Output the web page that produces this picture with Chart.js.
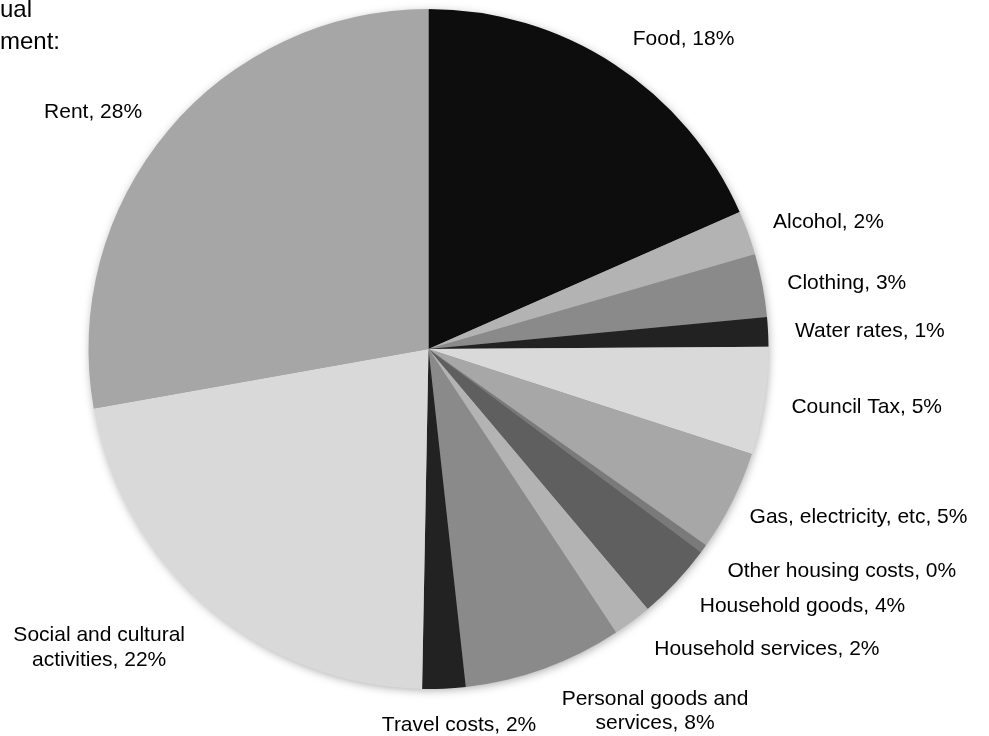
<!DOCTYPE html>
<html>
<head>
<meta charset="utf-8">
<script src="https://cdn.jsdelivr.net/npm/chart.js@4.4.1/dist/chart.umd.min.js"></script>
<style>
  body { margin: 0; background: #fff; }
  canvas { display: block; }
</style>
</head>
<body>
<canvas id="budgetPie" width="989" height="736"></canvas>
<script>
// slices, clockwise from 12 o'clock
var categories = ["Food", "Alcohol", "Clothing", "Water rates", "Council Tax", "Gas, electricity, etc",
    "Other housing costs", "Household goods", "Household services", "Personal goods and\nservices",
    "Travel costs", "Social and cultural\nactivities", "Rent"];
var shares = [18.4, 2.1, 3.0, 1.4, 5.1, 4.8, 0.4, 3.65, 1.85, 7.55, 2.05, 21.9, 27.8];
var titleLines = ["Annual", "requirement:"];

// styling
var sliceColors = ["#0d0d0d", "#b3b3b3", "#8a8a8a", "#222222", "#d9d9d9", "#a7a7a7", "#7a7a7a",
    "#5f5f5f", "#b3b3b3", "#8a8a8a", "#222222", "#d9d9d9", "#a6a6a6"];
// extra push of each label away from its default outside spot
var labelNudge = [[35, -6], [17, -3], [14, 2], [15, 0], [16, 3], [18, 6], [36, 9],
    [43, 9], [60, 10], [75, 10], [11, 14], [-45, 14], [-28, -4]];
var FONT = "21px 'Liberation Sans', Arial, sans-serif";

function labelText(i){
    var pct = Math.round(shares[i]);
    return (categories[i] + ", " + pct + "%").split("\n");
}

var pieShadow = {
    id: "pieShadow",
    beforeDatasetsDraw: function(chart){
        var arc = chart.getDatasetMeta(0).data[0];
        var p = arc.getProps(["x", "y", "outerRadius"], true);
        var ctx = chart.ctx;
        ctx.save();
        ctx.shadowColor = "rgba(0,0,0,0.35)";
        ctx.shadowBlur = 10;
        ctx.shadowOffsetX = 1;
        ctx.shadowOffsetY = 2;
        ctx.beginPath();
        ctx.arc(p.x, p.y, p.outerRadius - 1, 0, Math.PI * 2);
        ctx.fillStyle = "#999";
        ctx.fill();
        ctx.restore();
    }
};

var outsideLabels = {
    id: "outsideLabels",
    afterDatasetsDraw: function(chart){
        var ctx = chart.ctx;
        var meta = chart.getDatasetMeta(0);
        ctx.save();
        ctx.font = FONT;
        ctx.fillStyle = "#000";
        ctx.textAlign = "center";
        ctx.textBaseline = "middle";
        var lineH = 24.5;
        meta.data.forEach(function(arc, i){
            var p = arc.getProps(["x", "y", "startAngle", "endAngle", "outerRadius"], true);
            var mid = (p.startAngle + p.endAngle) / 2;
            var lines = labelText(i);
            var w = 0;
            lines.forEach(function(l){ w = Math.max(w, ctx.measureText(l).width); });
            var h = lines.length * lineH - 4;
            var r = p.outerRadius + 12;
            var cx = p.x + (r + w / 2) * Math.cos(mid) + labelNudge[i][0];
            var cy = p.y + (r + h / 2) * Math.sin(mid) + labelNudge[i][1];
            lines.forEach(function(l, k){
                ctx.fillText(l, cx, cy + (k - (lines.length - 1) / 2) * lineH);
            });
        });
        ctx.restore();
    }
};

// clipped heading in the top left corner
var cornerTitle = {
    id: "cornerTitle",
    afterDraw: function(chart){
        var ctx = chart.ctx;
        ctx.save();
        ctx.font = "24px 'Liberation Sans', Arial, sans-serif";
        ctx.fillStyle = "#000";
        ctx.textAlign = "right";
        ctx.textBaseline = "alphabetic";
        ctx.fillText(titleLines[0], 32, 17);
        ctx.fillText(titleLines[1], 60, 49);
        ctx.restore();
    }
};

var ctx = document.getElementById("budgetPie").getContext("2d");
var budgetChart = new Chart(ctx, {
    type: "pie",
    data: {
        labels: categories,
        datasets: [{
            data: shares,
            backgroundColor: sliceColors,
            borderWidth: 0
        }]
    },
    options: {
        responsive: false,
        animation: false,
        layout: { padding: { top: 9, bottom: 47, left: 88, right: 220 } },
        plugins: {
            legend: { display: false },
            tooltip: { enabled: false }
        }
    },
    plugins: [pieShadow, outsideLabels, cornerTitle]
});
</script>
</body>
</html>
